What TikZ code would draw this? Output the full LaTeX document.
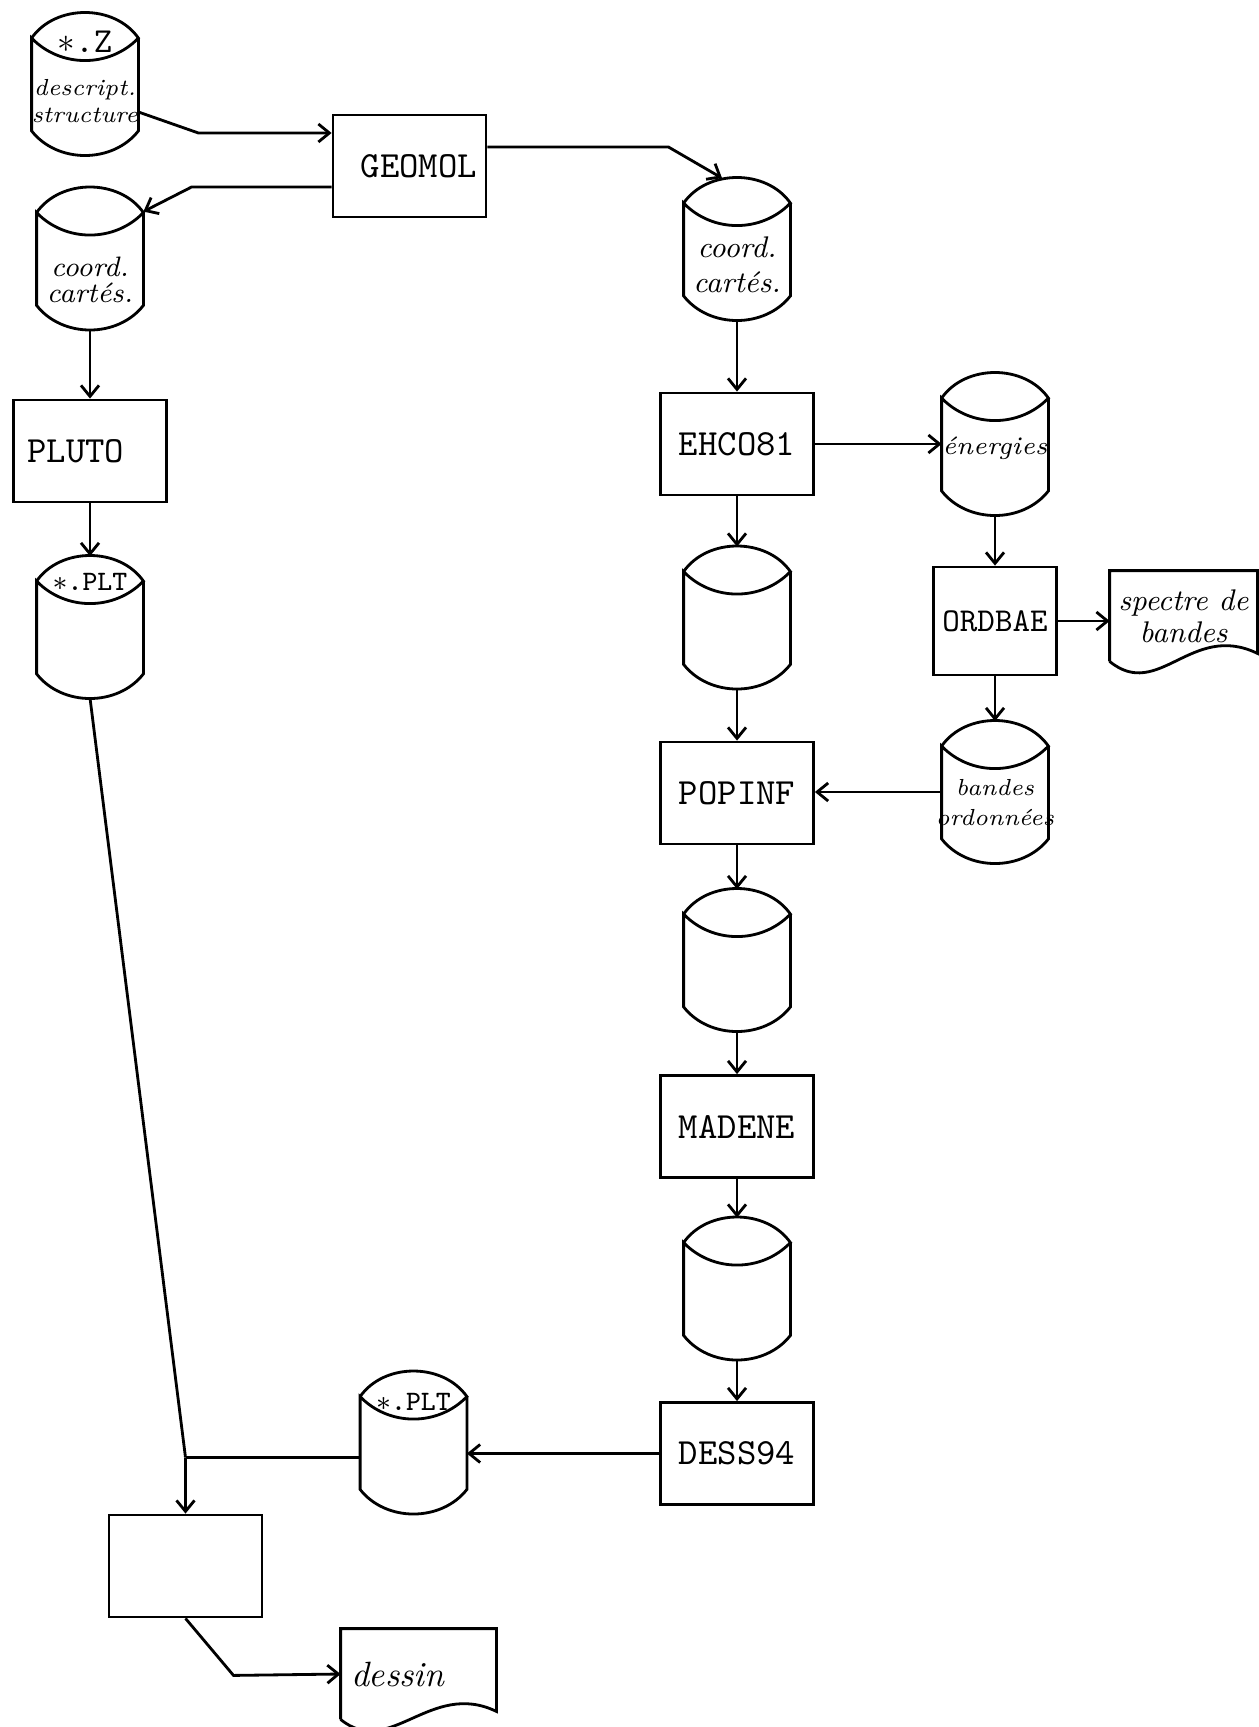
\documentclass[tikz,border=0pt]{standalone}
\usepackage{tikz}
\usetikzlibrary{arrows.meta}

\tikzset{
  prog/.style={draw, minimum width=1.53cm, minimum height=1.02cm, inner sep=0pt,
    font=\ttfamily\fontsize{10.5}{12}\selectfont},
  hand/.style={font=\fontsize{8}{7.5}\selectfont\itshape, align=center, inner sep=0pt},
  disk/.style={minimum width=1.04cm, minimum height=1.39cm, inner sep=0pt,
    append after command={\pgfextra{
      \draw ([yshift=-2.5mm]\tikzlastnode.north west) to[bend left=55]
            ([yshift=-2.5mm]\tikzlastnode.north east) to[bend left=46]
            ([yshift=-2.5mm]\tikzlastnode.north west) --
            ([yshift=2.4mm]\tikzlastnode.south west) to[bend right=52]
            ([yshift=2.4mm]\tikzlastnode.south east) --
            ([yshift=-2.5mm]\tikzlastnode.north east);}}},
  doc/.style={minimum width=1.53cm, minimum height=0.88cm, inner sep=0.5mm,
    font=\fontsize{8.5}{9.1}\selectfont\itshape, align=center,
    append after command={\pgfextra{
      \draw (\tikzlastnode.south west) -- (\tikzlastnode.north west) --
            (\tikzlastnode.north east) -- ([yshift=0.8mm]\tikzlastnode.south east)
            .. controls +(-0.66,0.32) and +(0.49,-0.40) .. (\tikzlastnode.south west);}}}
}

\begin{document}
\begin{tikzpicture}[>={Straight Barb[length=1.1mm,width=1.8mm]},thick]
\useasboundingbox (0,0) rectangle (12.58,-17.27);

% left column
\node[disk,
  label={[hand,font=\ttfamily\fontsize{10}{12}\selectfont,yshift=4.2mm]center:$\ast$.Z},
  label={[hand,font=\fontsize{6.6}{7.7}\selectfont\itshape,yshift=-1.75mm]center:descript.\\structure}]
  (descr) at (0.85,-0.84) {};
\node[prog,text width=1.35cm,align=right] (geomol) at (4.095,-1.66) {GEOMOL};
\node[disk,label={[hand,yshift=-2.15mm]center:coord.\\cartés.}] (lcoord) at (0.90,-2.585) {};
\node[prog,text width=1.25cm,align=left] (pluto) at (0.90,-4.51) {PLUTO};
\node[disk,label={[hand,font=\ttfamily\fontsize{8}{9}\selectfont,yshift=4.5mm]center:$\ast$.PLT}]
  (plt) at (0.90,-6.27) {};

% central column
\node[disk,label={[hand,font=\fontsize{8.5}{10}\selectfont\itshape,yshift=-1.55mm]center:coord.\\cartés.}]
  (rcoord) at (7.37,-2.49) {};
\node[prog] (ehco) at (7.37,-4.44) {EHCO81};
\node[disk] (mid1) at (7.37,-6.175) {};
\node[prog] (popinf) at (7.37,-7.93) {POPINF};
\node[disk] (mid2) at (7.37,-9.60) {};
\node[prog] (madene) at (7.37,-11.265) {MADENE};
\node[disk] (mid3) at (7.37,-12.885) {};
\node[prog] (dess) at (7.37,-14.535) {DESS94};

% right column
\node[disk,label={[hand,font=\fontsize{7.2}{8}\selectfont\itshape,yshift=-0.4mm]center:énergies}]
  (energ) at (9.95,-4.44) {};
\node[prog,minimum width=1.23cm,minimum height=1.08cm,font=\ttfamily\fontsize{9.5}{12}\selectfont]
  (ordbae) at (9.95,-6.21) {ORDBAE};
\node[doc,minimum width=1.45cm] (spectre) at (11.835,-6.16) {spectre de\\bandes};
\node[disk,label={[hand,font=\fontsize{6.6}{8.3}\selectfont\itshape,yshift=-1.05mm]center:bandes\\ordonnées}]
  (bandes) at (9.95,-7.92) {};

% bottom
\node[disk,label={[hand,font=\ttfamily\fontsize{8}{9}\selectfont,yshift=4.05mm]center:$\ast$.PLT}]
  (plt2) at (4.135,-14.425) {};
\node[prog] (plot) at (1.855,-15.66) {};
\node[doc,text width=1.35cm,align=left,font=\fontsize{10}{12}\selectfont\itshape]
  (dessin) at (4.185,-16.74) {dessin};
\coordinate (join) at (1.855,-14.575);

\draw[->] ([yshift=-2.8mm]descr.east) -- ++(0.60,-0.21) -- ([yshift=3.3mm]geomol.west);
\draw[->] ([yshift=-2.1mm]geomol.west) -- ++(-1.40,0) -- ([yshift=-2.4mm]lcoord.north east);
\draw[->] ([yshift=1.9mm]geomol.east) -- ++(1.81,0) -- ([xshift=-1.5mm]rcoord.north);

\draw[->] (lcoord.south) -- (pluto.north);
\draw[->] (pluto.south) -- (plt.north);
\draw (plt.south) -- (join);
\draw ([yshift=-1.5mm]plt2.west) -- (join);
\draw[->] (join) -- (plot.north);
\draw[->] (plot.south) -- ++(0.48,-0.57) -- (dessin.west);

\draw[->] (rcoord.south) -- (ehco.north);
\draw[->] (ehco.south) -- (mid1.north);
\draw[->] (mid1.south) -- (popinf.north);
\draw[->] (popinf.south) -- (mid2.north);
\draw[->] (mid2.south) -- (madene.north);
\draw[->] (madene.south) -- (mid3.north);
\draw[->] (mid3.south) -- (dess.north);
\draw[->] (dess.west) -- (dess.west -| plt2.east);

\draw[->] (ehco.east) -- (energ.west);
\draw[->] (energ.south) -- (ordbae.north);
\draw[->] (ordbae.south) -- (bandes.north);
\draw[->] (ordbae.east) -- (ordbae.east -| spectre.west);
\draw[->] (bandes.west) -- (bandes.west -| popinf.east);

\end{tikzpicture}
\end{document}
